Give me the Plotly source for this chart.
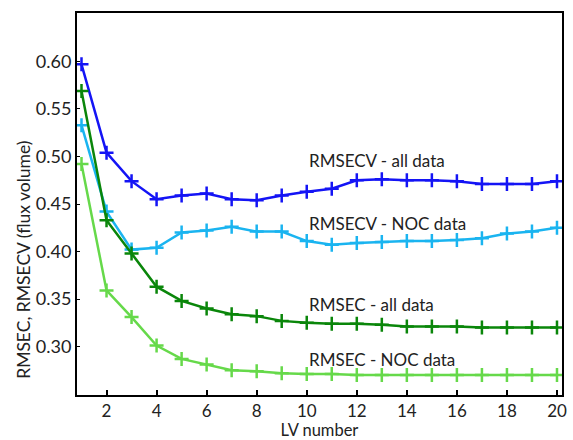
import plotly.graph_objects as go

lv = list(range(1, 21))
rmsecv_all = [0.597, 0.504, 0.474, 0.455, 0.459, 0.461, 0.455, 0.454, 0.459, 0.463,
              0.466, 0.475, 0.476, 0.475, 0.475, 0.474, 0.471, 0.471, 0.471, 0.474]
rmsecv_noc = [0.533, 0.442, 0.402, 0.404, 0.420, 0.422, 0.426, 0.421, 0.421, 0.411,
              0.407, 0.409, 0.410, 0.411, 0.411, 0.412, 0.414, 0.419, 0.421, 0.425]
rmsec_all = [0.569, 0.433, 0.398, 0.363, 0.348, 0.340, 0.334, 0.332, 0.327, 0.325,
             0.324, 0.324, 0.323, 0.321, 0.321, 0.321, 0.320, 0.320, 0.320, 0.320]
rmsec_noc = [0.492, 0.359, 0.331, 0.301, 0.287, 0.281, 0.275, 0.274, 0.272, 0.271,
             0.271, 0.270, 0.270, 0.270, 0.270, 0.270, 0.270, 0.270, 0.270, 0.270]

series = [
    ("RMSECV - all data", rmsecv_all, "#1414f5", 0.496),
    ("RMSECV - NOC data", rmsecv_noc, "#1ab4f0", 0.429),
    ("RMSEC - all data", rmsec_all, "#0a860a", 0.344),
    ("RMSEC - NOC data", rmsec_noc, "#66d94a", 0.286),
]

x_ticks = [2, 4, 6, 8, 10, 12, 14, 16, 18, 20]
y_ticks = [0.30, 0.35, 0.40, 0.45, 0.50, 0.55, 0.60]

FONT = "Lato"
TXT = "#222222"
fig = go.Figure()
for name, vals, color, ly in series:
    fig.add_trace(go.Scatter(
        x=lv, y=vals, mode="lines+markers", name=name,
        line=dict(color=color, width=2.5),
        marker=dict(symbol="cross-thin", size=10, line=dict(color=color, width=2.5)),
        showlegend=False,
    ))
    fig.add_annotation(x=10.0, y=ly, text=name, showarrow=False, xanchor="left",
                       yanchor="middle", font=dict(family=FONT, size=17, color=TXT))

# y-axis title (placed lower than the plot centre, as in the reference)
fig.add_annotation(xref="paper", yref="paper", x=-0.112, y=0.353,
                   text="RMSEC, RMSECV (flux volume)", showarrow=False, textangle=-90,
                   xanchor="center", yanchor="middle",
                   font=dict(family=FONT, size=17.5, color=TXT))

fig.update_layout(
    width=573, height=440,
    margin=dict(l=77, r=6, t=13, b=39),
    plot_bgcolor="white", paper_bgcolor="white",
    font=dict(family=FONT, size=16, color=TXT),
)
fig.update_xaxes(
    range=[0.82, 20.2], tickvals=x_ticks, ticktext=[str(v) for v in x_ticks],
    showgrid=False, zeroline=False, showline=True, linecolor="black", linewidth=2,
    mirror=True, ticks="inside", ticklen=5, tickcolor="black", tickwidth=1.5,
    title=dict(text="LV number", standoff=1, font=dict(family=FONT, size=16.5)),
    tickfont=dict(family=FONT, size=17),
)
fig.update_yaxes(
    range=[0.249, 0.651], tickvals=y_ticks, ticktext=["%.2f" % v for v in y_ticks],
    showgrid=False, zeroline=False, showline=True, linecolor="black", linewidth=2,
    mirror=True, ticks="inside", ticklen=3, tickcolor="black", tickwidth=1,
    tickfont=dict(family=FONT, size=18),
)

fig.write_html("out.html")
